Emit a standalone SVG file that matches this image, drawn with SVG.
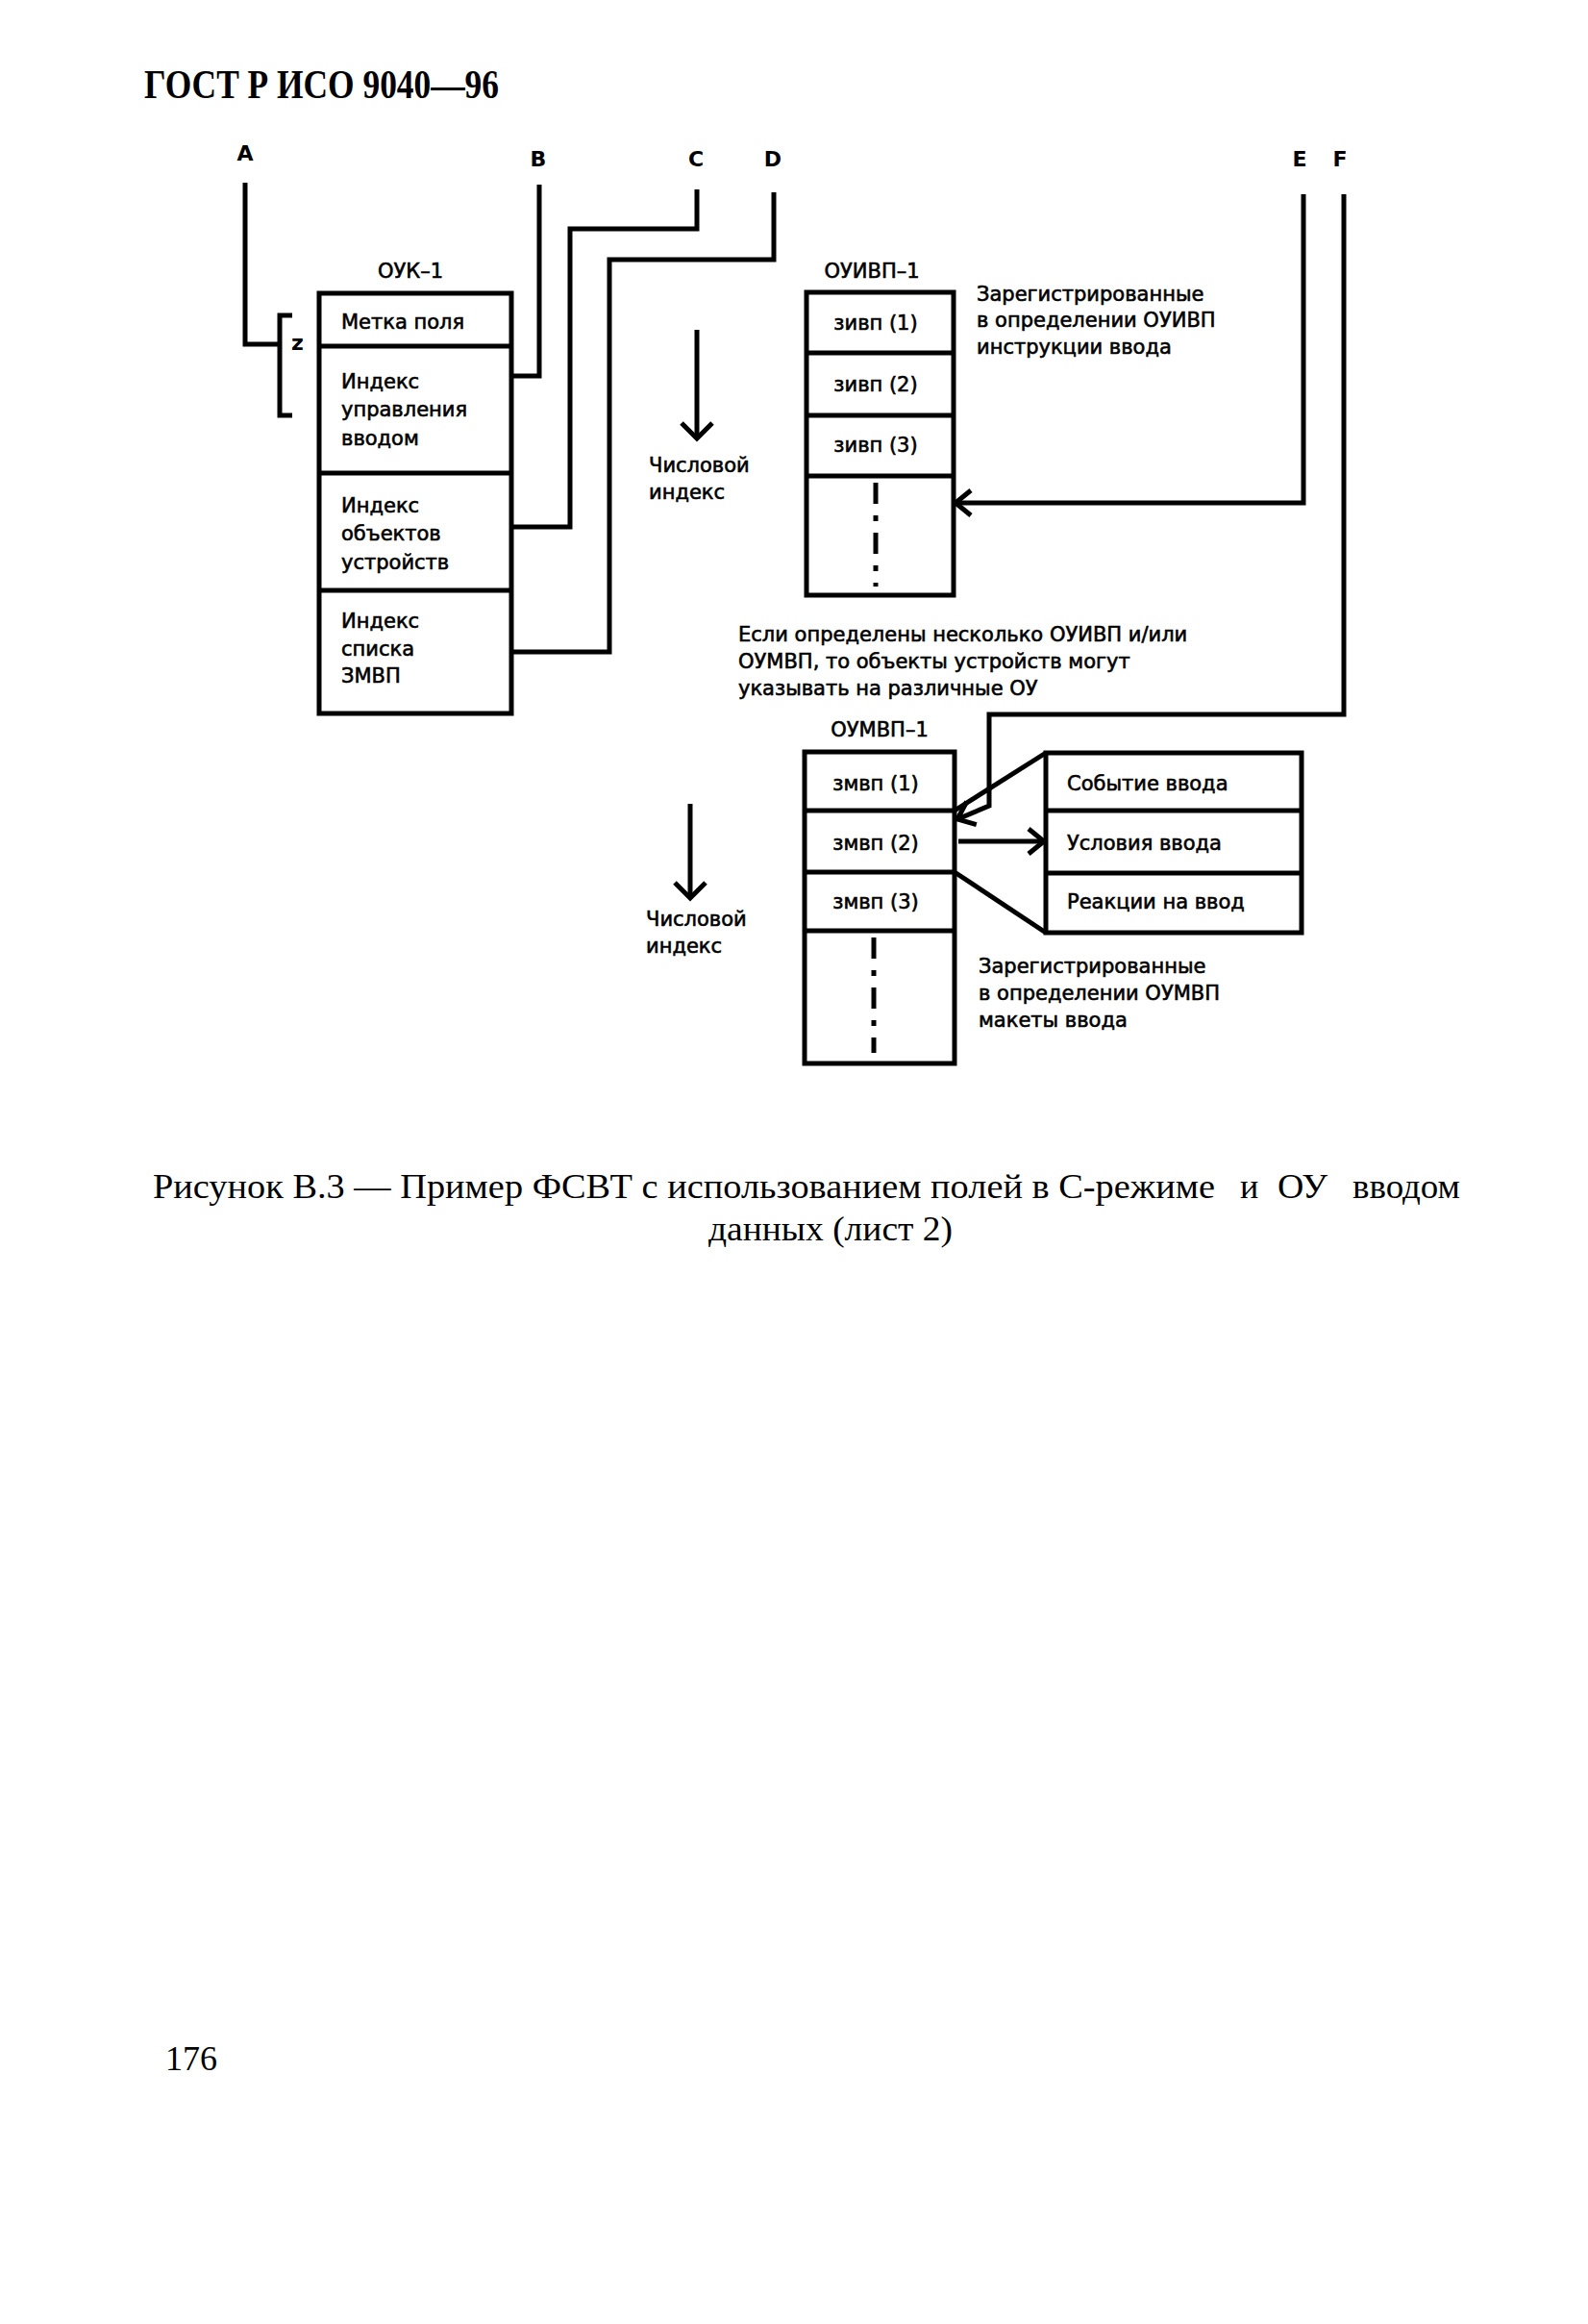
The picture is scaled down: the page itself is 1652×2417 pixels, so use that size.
<svg xmlns="http://www.w3.org/2000/svg" width="1652" height="2417" viewBox="0 0 1652 2417">
<style>
.ln{fill:none;stroke:#000;stroke-width:5;stroke-linejoin:miter}
.bx{fill:#fff;stroke:#000;stroke-width:5}
.t{font-family:"DejaVu Sans","Liberation Sans",sans-serif;font-size:21px;fill:#000;stroke:#000;stroke-width:0.6}
.lb{font-family:"DejaVu Sans","Liberation Sans",sans-serif;font-size:22px;font-weight:bold;fill:#000}
.ttl{font-family:"Liberation Serif","Times New Roman",serif;font-weight:bold;font-size:42px;fill:#000}
.cap{font-family:"Liberation Serif","Times New Roman",serif;font-size:36px;fill:#000}
.dash{fill:none;stroke:#000;stroke-width:5;stroke-dasharray:22 12 6 12}
</style>
<defs>
<marker id="vbig" viewBox="0 0 18 36" refX="17" refY="18" markerWidth="18" markerHeight="36" markerUnits="userSpaceOnUse" orient="auto" overflow="visible">
<path d="M1,2 L17,18 L1,34" fill="none" stroke="#000" stroke-width="5"/>
</marker>
<marker id="vmid" viewBox="0 0 18 30" refX="17" refY="15" markerWidth="18" markerHeight="30" markerUnits="userSpaceOnUse" orient="auto" overflow="visible">
<path d="M1,2 L17,15 L1,28" fill="none" stroke="#000" stroke-width="5"/>
</marker>
</defs>

<text class="ttl" x="150" y="102" textLength="369" lengthAdjust="spacingAndGlyphs">ГОСТ Р ИСО 9040—96</text>

<g id="labels">
<text class="lb" x="255" y="167" text-anchor="middle">A</text>
<text class="lb" x="560" y="173" text-anchor="middle">B</text>
<text class="lb" x="724" y="173" text-anchor="middle">C</text>
<text class="lb" x="804" y="173" text-anchor="middle">D</text>
<text class="lb" x="1352" y="173" text-anchor="middle">E</text>
<text class="lb" x="1394" y="173" text-anchor="middle">F</text>
</g>

<g id="connectors">
<path class="ln" d="M255,190 V358 H291"/>
<path class="ln" d="M304,328 H291 V432 H304"/>
<path class="ln" d="M561,192 V391 H532"/>
<path class="ln" d="M725,197 V238 H593 V548 H532"/>
<path class="ln" d="M805,200 V270 H634 V678 H532"/>
<path class="ln" d="M1356,202 V523 H994" marker-end="url(#vmid)"/>
<path class="ln" d="M1398,202 V743 H1029 V838 L996,852" marker-end="url(#vmid)"/>
<path class="ln" d="M993,843 L1088,783"/>
<path class="ln" d="M993,907 L1088,970"/>
<path class="ln" d="M997,875 H1086" marker-end="url(#vmid)"/>
<path class="ln" d="M725,343 V456" marker-end="url(#vbig)"/>
<path class="ln" d="M718,836 V934" marker-end="url(#vbig)"/>
</g>

<text class="lb" x="303" y="364" font-size="17">z</text>

<g id="ouk1">
<text class="t" x="427" y="289" text-anchor="middle">ОУК–1</text>
<rect class="bx" x="332" y="305" width="200" height="437"/>
<line class="ln" x1="332" y1="360" x2="532" y2="360"/>
<line class="ln" x1="332" y1="492" x2="532" y2="492"/>
<line class="ln" x1="332" y1="614" x2="532" y2="614"/>
<text class="t" x="355" y="342">Метка поля</text>
<text class="t" x="355" y="404">Индекс</text>
<text class="t" x="355" y="433">управления</text>
<text class="t" x="355" y="463">вводом</text>
<text class="t" x="355" y="533">Индекс</text>
<text class="t" x="355" y="562">объектов</text>
<text class="t" x="355" y="592">устройств</text>
<text class="t" x="355" y="653">Индекс</text>
<text class="t" x="355" y="682">списка</text>
<text class="t" x="355" y="710">ЗМВП</text>
</g>

<g id="num1">
<text class="t" x="675" y="491">Числовой</text>
<text class="t" x="675" y="519">индекс</text>
</g>

<g id="ouivp1">
<text class="t" x="907" y="289" text-anchor="middle">ОУИВП–1</text>
<rect class="bx" x="839" y="304" width="153" height="315"/>
<line class="ln" x1="839" y1="367" x2="992" y2="367"/>
<line class="ln" x1="839" y1="432" x2="992" y2="432"/>
<line class="ln" x1="839" y1="495" x2="992" y2="495"/>
<text class="t" x="911" y="343" text-anchor="middle">зивп (1)</text>
<text class="t" x="911" y="407" text-anchor="middle">зивп (2)</text>
<text class="t" x="911" y="470" text-anchor="middle">зивп (3)</text>
<line class="dash" x1="911" y1="502" x2="911" y2="610"/>
</g>

<g id="note-ouivp">
<text class="t" x="1016" y="313">Зарегистрированные</text>
<text class="t" x="1016" y="340">в определении ОУИВП</text>
<text class="t" x="1016" y="368">инструкции ввода</text>
</g>

<g id="note-multi">
<text class="t" x="768" y="667">Если определены несколько ОУИВП и/или</text>
<text class="t" x="768" y="695">ОУМВП, то объекты устройств могут</text>
<text class="t" x="768" y="723">указывать на различные ОУ</text>
</g>

<g id="oumvp1">
<text class="t" x="915" y="766" text-anchor="middle">ОУМВП–1</text>
<rect class="bx" x="837" y="782" width="156" height="324"/>
<line class="ln" x1="837" y1="843" x2="993" y2="843"/>
<line class="ln" x1="837" y1="907" x2="993" y2="907"/>
<line class="ln" x1="837" y1="968" x2="993" y2="968"/>
<text class="t" x="911" y="822" text-anchor="middle">змвп (1)</text>
<text class="t" x="911" y="884" text-anchor="middle">змвп (2)</text>
<text class="t" x="911" y="945" text-anchor="middle">змвп (3)</text>
<line class="dash" x1="909" y1="975" x2="909" y2="1095"/>
</g>

<g id="layout">
<rect class="bx" x="1088" y="783" width="266" height="187"/>
<line class="ln" x1="1088" y1="843" x2="1354" y2="843"/>
<line class="ln" x1="1088" y1="908" x2="1354" y2="908"/>
<text class="t" x="1110" y="822">Событие ввода</text>
<text class="t" x="1110" y="884">Условия ввода</text>
<text class="t" x="1110" y="945">Реакции на ввод</text>
</g>

<g id="num2">
<text class="t" x="672" y="963">Числовой</text>
<text class="t" x="672" y="991">индекс</text>
</g>

<g id="note-oumvp">
<text class="t" x="1018" y="1012">Зарегистрированные</text>
<text class="t" x="1018" y="1040">в определении ОУМВП</text>
<text class="t" x="1018" y="1068">макеты ввода</text>
</g>

<g id="caption">
<text class="cap" x="159" y="1246" textLength="1105" lengthAdjust="spacingAndGlyphs">Рисунок В.3 — Пример ФСВТ с использованием полей в С-режиме</text>
<text class="cap" x="1290" y="1246">и</text>
<text class="cap" x="1329" y="1246" textLength="52" lengthAdjust="spacingAndGlyphs">ОУ</text>
<text class="cap" x="1407" y="1246" textLength="112" lengthAdjust="spacingAndGlyphs">вводом</text>
<text class="cap" x="737" y="1290" textLength="254" lengthAdjust="spacingAndGlyphs">данных (лист 2)</text>
</g>

<text class="cap" x="172" y="2153" font-size="34">176</text>
</svg>
